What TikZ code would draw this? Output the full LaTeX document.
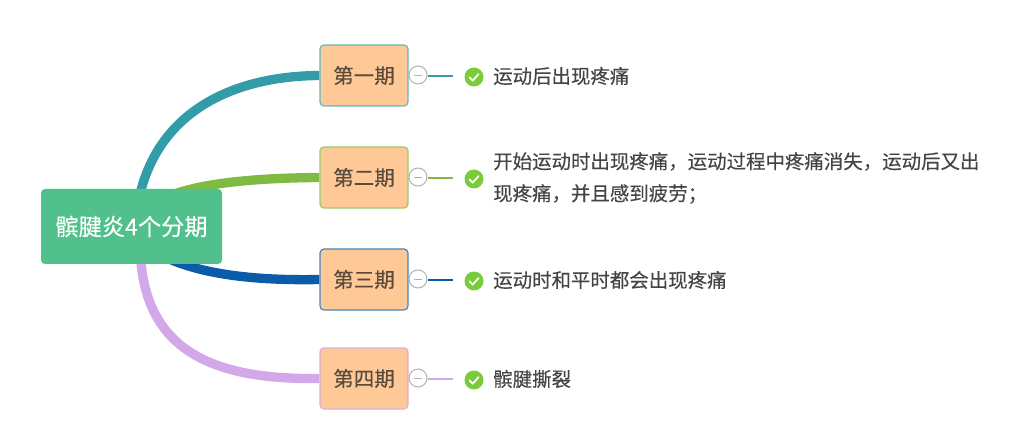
\documentclass[tikz,border=0pt]{standalone}
\usepackage{fontspec}
\usetikzlibrary{calc,backgrounds}
\setmainfont[FakeBold=0.3]{Noto Sans CJK SC}
\definecolor{rootg}{HTML}{52C08C}
\definecolor{teal1}{HTML}{329DA8}
\definecolor{green2}{HTML}{7FBB42}
\definecolor{blue3}{HTML}{0A5CAB}
\definecolor{purple4}{HTML}{D3A8E8}
\definecolor{peach}{HTML}{FFC997}
\definecolor{txt}{HTML}{444444}
\definecolor{topictxt}{HTML}{5A4A3C}
\definecolor{checkg}{HTML}{7ACB3C}
\tikzset{
 x=1pt,y=-1pt,
 rootbox/.style={fill=rootg,rounded corners=4pt,minimum width=181pt,minimum height=75pt,inner sep=0,text=white,font=\fontsize{23.2}{24}\selectfont},
 topic/.style={fill=peach,draw=#1,line width=1.2pt,rounded corners=4pt,minimum width=88pt,minimum height=61pt,inner sep=0,text=topictxt,font=\fontsize{20.5}{24}\selectfont},
 branch/.style={draw=#1,line width=9.3pt},
 fold/.style={circle,draw=black!30,fill=white,line width=1pt,minimum size=18pt,inner sep=0},
 foldline/.style={fill=#1,draw=none},
 checkmk/.style={circle,fill=checkg,minimum size=19pt,inner sep=0},
 label/.style={anchor=west,inner sep=0,text=txt,font=\fontsize{19.45}{32}\selectfont,align=left},
}
\begin{document}
\begin{tikzpicture}
\useasboundingbox (0,0) rectangle (1017,446);
\node[rootbox] (root) at (131.5,226.5) {\raisebox{-1.5pt}{髌腱炎4个分期}};
\node[topic=teal1!75!white] (t1) at (364,75.5) {\raisebox{-1pt}{第一期}};
\node[topic=green2!80!white] (t2) at (364,177.5) {\raisebox{-1.5pt}{第二期}};
\node[topic=blue3!75!white] (t3) at (364,279.5) {\raisebox{-1.5pt}{第三期}};
\node[topic=purple4!80!peach] (t4) at (364,378.5) {\raisebox{-1.5pt}{第四期}};
\coordinate (s1) at ($(root.north west)+(99,6)$);
\coordinate (s2) at ($(root.north west)+(124,9)$);
\coordinate (s3) at ($(root.south west)+(115,-12)$);
\coordinate (s4) at ($(root.south west)+(100,-4)$);
\begin{pgfonlayer}{background}
\path[branch=teal1] (s1) .. controls (160,110) and (235,76) .. (t1.west);
\path[branch=green2] (s2) .. controls (195,184) and (250,178) .. (t2.west);
\path[branch=blue3] (s3) .. controls (190,272) and (245,281) .. (t3.west);
\path[branch=purple4] (s4) .. controls (148,350) and (212,380) .. (t4.west);
\end{pgfonlayer}
\foreach \i/\yy/\col/\ly/\cy in {1/75/teal1/76/77,2/177/green2/178/179,3/279/blue3/280/281,4/378/purple4/379/380}{
 \node[fold] (f\i) at (418,\yy) {};
 \draw[black!30,line width=.8pt] ($(f\i.center)+(-4,0)$) -- ($(f\i.center)+(4,0)$);
 \coordinate (e\i) at (453,\ly);
 \coordinate (b\i) at (428,\ly);
 \path[foldline=\col] ($(b\i)+(0,-.6)$) rectangle ($(e\i)+(0,.6)$);
 \node[checkmk] (c\i) at (474,\cy) {};
 \draw[white,line width=1.7pt,line cap=round,line join=round] ($(c\i.center)+(-4.5,0.3)$) -- ++(3.2,3.4) -- ++(5.8,-6.6);
}
\node[label] (l1) at (493,76) {运动后出现疼痛};
\node[label,text width=500pt] (l2) at (493,178) {开始运动时出现疼痛，运动过程中疼痛消失，运动后又出\\现疼痛，并且感到疲劳；};
\node[label] (l3) at (493,280) {运动时和平时都会出现疼痛};
\node[label] (l4) at (493,379) {髌腱撕裂};
\end{tikzpicture}
\end{document}
